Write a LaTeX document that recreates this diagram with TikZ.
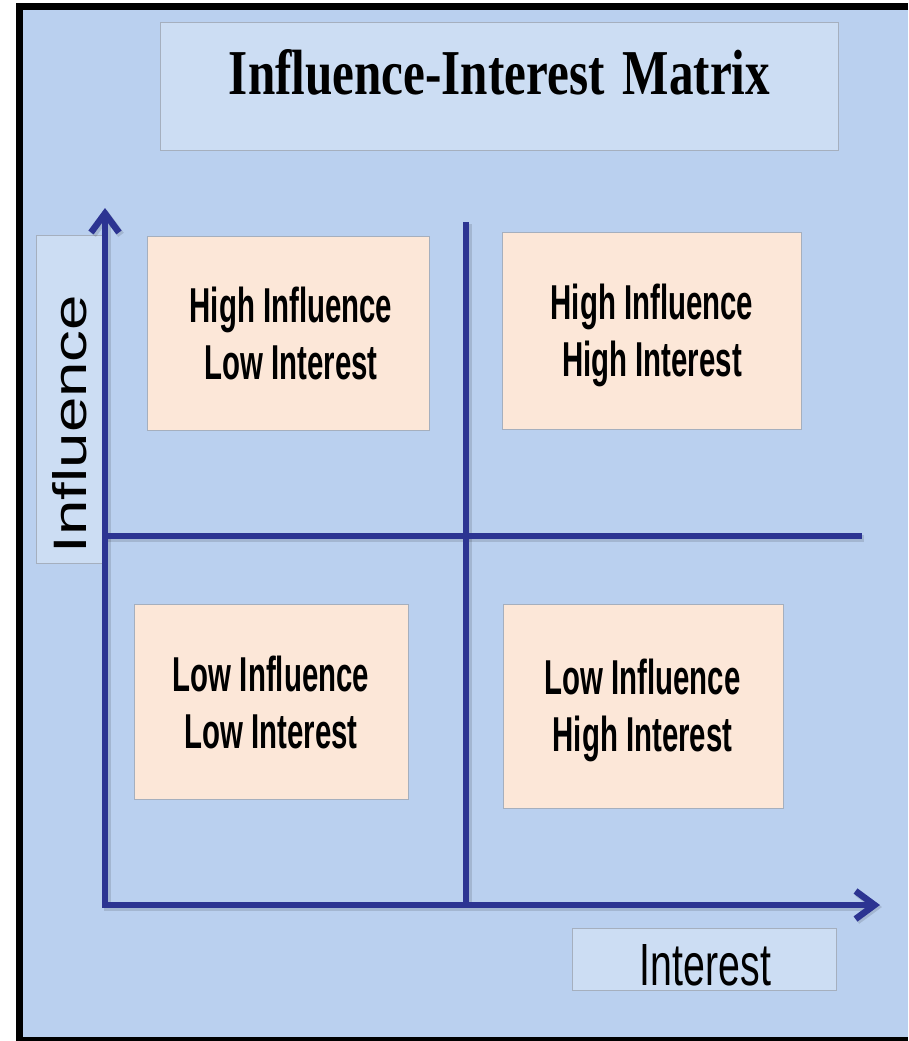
\documentclass[tikz,border=0pt]{standalone}
\usepackage{fontspec}
\usepackage{graphicx}
\usetikzlibrary{arrows.meta}
\newfontfamily\quadfont[FakeStretch=0.6]{Liberation Sans}
\newfontfamily\titlefont{Liberation Serif}
\newfontfamily\labelfont{Liberation Sans}
\definecolor{bgblue}{RGB}{186,208,239}
\definecolor{boxblue}{RGB}{204,221,243}
\definecolor{peach}{RGB}{252,231,216}
\definecolor{boxline}{RGB}{165,175,190}
\definecolor{axblue}{RGB}{44,52,146}
\tikzset{
  panel/.style={fill=boxblue, draw=boxline, line width=0.8pt},
  quad/.style={fill=peach, draw=boxline, line width=0.8pt},
  quadtext/.style={align=center, inner sep=0pt, text=black,
    font=\quadfont\bfseries\fontsize{49}{57}\selectfont},
  axisline/.style={draw=axblue, line width=6.5pt, line join=miter},
  shade/.style={draw=black, opacity=0.12, line width=7pt, line join=miter,
    transform canvas={shift={(2,2)}}},
  barbs/.style={{Straight Barb[length=19pt,width=28pt]}-{Straight Barb[length=19pt,width=28pt]}}
}
\begin{document}
\begin{tikzpicture}[x=1pt,y=-1pt]
\useasboundingbox (0,0) rectangle (908,1041);
% frame and background
\fill[white] (0,0) rectangle (908,1041);
\fill[black] (16,3) rectangle (908,1041);
\fill[bgblue] (23,10) rectangle (908,1037);
% title
\draw[panel] (160,22) rectangle (838,150);
\node[anchor=base, inner sep=0pt] (title) at (499.5,95)
  {\resizebox{541pt}{45pt}{\titlefont\bfseries Influence-Interest\hspace{0.12em} Matrix}};
% axis label boxes
\draw[panel] (36,235) rectangle (102,563);
\node[rotate=90, anchor=base, inner sep=0pt] (ylabel) at (86,424)
  {\resizebox{258pt}{34pt}{\labelfont Influence}};
\draw[panel] (572,928) rectangle (836,990);
\node[anchor=base, inner sep=0pt] (xlabel) at (705.5,985)
  {\resizebox{131pt}{41pt}{\labelfont Interest}};
% quadrant boxes
\draw[quad] (147,236) rectangle (429,430);
\draw[quad] (502,232) rectangle (801,429);
\draw[quad] (134,604) rectangle (408,799);
\draw[quad] (503,604) rectangle (783,808);
\node[quadtext] (hl) at (291,333.5) {High Influence\\Low Interest};
\node[quadtext] (hh) at (652,335.5) {High Influence\\High Interest};
\node[quadtext] (ll) at (271,702) {Low Influence\\Low Interest};
\node[quadtext] (lh) at (642.5,710.5) {Low Influence\\High Interest};
% axes
\coordinate (O) at (105,905);
\coordinate (ytip) at (105,208);
\coordinate (xtip) at (880,905);
\coordinate (vtop) at (466,222);
\coordinate (vbot) at (466,905);
\coordinate (hleft) at (105,536);
\coordinate (hright) at (862,536);
\draw[shade] (vtop) -- (vbot);
\draw[shade] (hleft) -- (hright);
\draw[shade, barbs] (ytip) -- (O) -- (xtip);
\draw[axisline] (vtop) -- (vbot);
\draw[axisline] (hleft) -- (hright);
\draw[axisline, barbs] (ytip) -- (O) -- (xtip);
\end{tikzpicture}
\end{document}
